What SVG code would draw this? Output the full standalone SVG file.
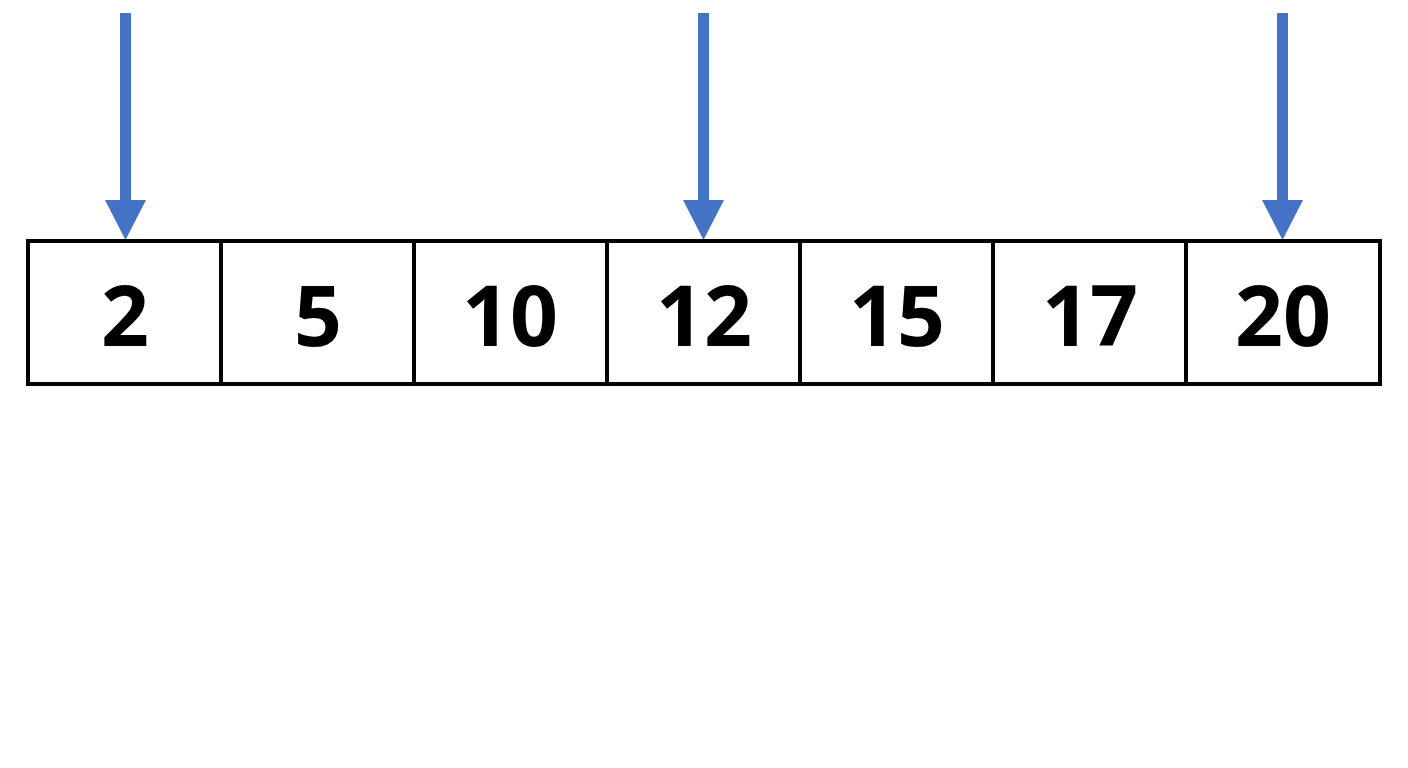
<svg xmlns="http://www.w3.org/2000/svg" width="1408" height="768" viewBox="0 0 1408 768">
<style>
.cell{fill:#fff;stroke:#000;stroke-width:4}
.num{font-family:"Open Sans","Liberation Sans",sans-serif;font-weight:bold;font-size:84px;text-anchor:middle;fill:#000}
.shaft{fill:#4472C4}
</style>
<rect width="1408" height="768" fill="#fff"/>
<g id="connectors">
<g id="arrow1"><rect class="shaft" x="120" y="13" width="11" height="190"/><polygon class="shaft" points="105,200 146,200 125.5,240"/></g>
<g id="arrow2"><rect class="shaft" x="698" y="13" width="11" height="190"/><polygon class="shaft" points="683,200 724,200 703.5,240"/></g>
<g id="arrow3"><rect class="shaft" x="1277" y="13" width="11" height="190"/><polygon class="shaft" points="1262,200 1303,200 1282.5,240"/></g>
</g>
<g id="cell0"><rect class="cell" x="28" y="241" width="193" height="143"/><text class="num" x="125" y="346">2</text></g>
<g id="cell1"><rect class="cell" x="221" y="241" width="193" height="143"/><text class="num" x="318" y="346">5</text></g>
<g id="cell2"><rect class="cell" x="414" y="241" width="193" height="143"/><text class="num" x="510" y="346">10</text></g>
<g id="cell3"><rect class="cell" x="607" y="241" width="193" height="143"/><text class="num" x="704" y="346">12</text></g>
<g id="cell4"><rect class="cell" x="800" y="241" width="193" height="143"/><text class="num" x="897" y="346">15</text></g>
<g id="cell5"><rect class="cell" x="993" y="241" width="193" height="143"/><text class="num" x="1090" y="346">17</text></g>
<g id="cell6"><rect class="cell" x="1186" y="241" width="194" height="143"/><text class="num" x="1283" y="346">20</text></g>
</svg>
